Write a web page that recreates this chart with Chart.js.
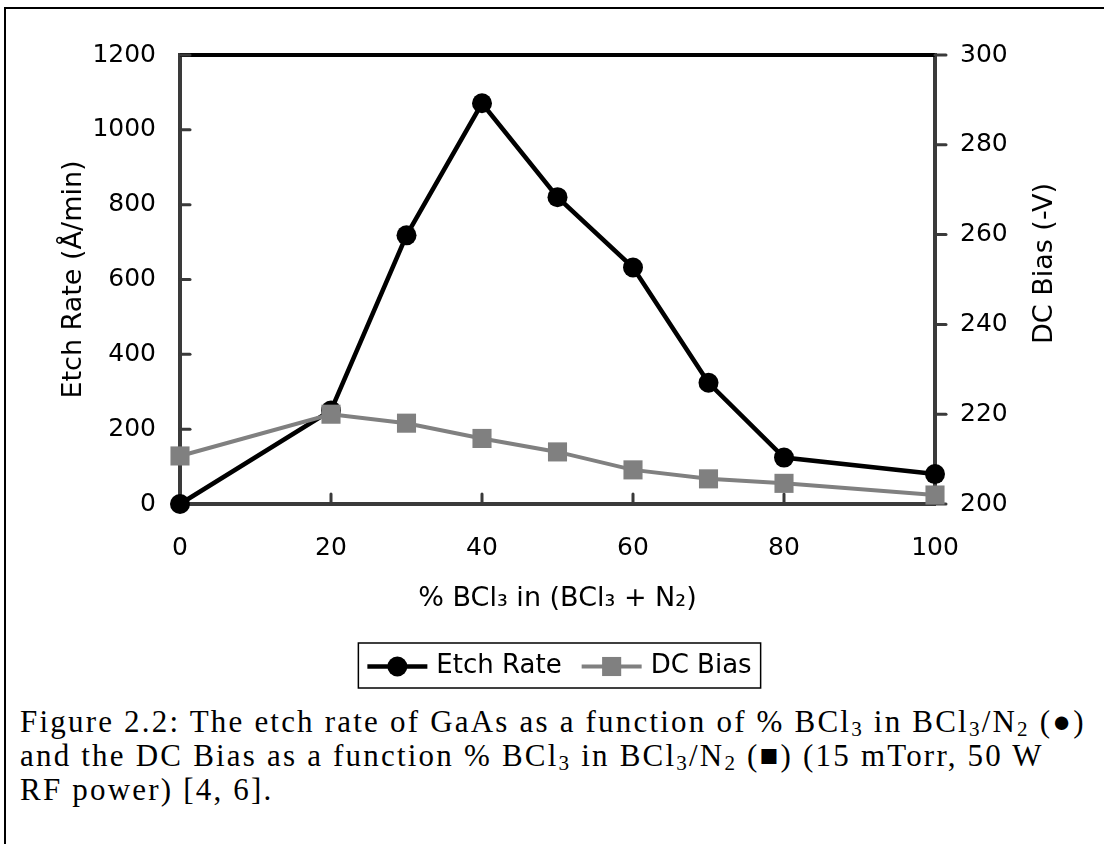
<!DOCTYPE html>
<html>
<head>
<meta charset="utf-8">
<title>Etch rate and DC bias vs % BCl3</title>
<script src="https://cdn.jsdelivr.net/npm/chart.js@4.4.1/dist/chart.umd.min.js"></script>
<style>
  html, body { margin: 0; padding: 0; background: #fff; overflow: hidden; }
  body { width: 1104px; height: 844px; position: relative; }
  .frame { position: absolute; left: 4px; top: 7px; width: 1200px; height: 900px;
           border-top: 2px solid #000; border-left: 2px solid #000; }
  #wrap { position: absolute; left: 0; top: 0; width: 1104px; height: 700px; }
  .caption { position: absolute; left: 20px; top: 705px; font-family: "Liberation Serif", serif;
             font-size: 31px; line-height: 34px; white-space: nowrap; color: #000; }
  .caption .ln { display: inline-block; }
  .caption sub { font-size: 0.68em; vertical-align: -0.2em; line-height: 0; }
</style>
</head>
<body>
<div class="frame"></div>
<div id="wrap"><canvas id="chart" width="1104" height="700"></canvas></div>
<div class="caption">
  <span class="ln">Figure 2.2: The etch rate of GaAs as a function of % BCl<sub>3</sub> in BCl<sub>3</sub>/N<sub>2</sub> (●)</span><br>
  <span class="ln">and the DC Bias as a function % BCl<sub>3</sub> in BCl<sub>3</sub>/N<sub>2</sub> (■) (15 mTorr, 50 W</span><br>
  <span class="ln">RF power) [4, 6].</span>
</div>
<script>
// values
const bcl3Pct = [0, 20, 30, 40, 50, 60, 70, 80, 100];
const etchRate = [0, 250, 718, 1071, 820, 632, 324, 124, 80];
const dcBias = [210.7, 220, 218, 214.6, 211.6, 207.6, 205.6, 204.6, 202];

const xTicks = [0, 20, 40, 60, 80, 100];
const etchTicks = [0, 200, 400, 600, 800, 1000, 1200];
const biasTicks = [200, 220, 240, 260, 280, 300];

const xTitle = '% BCl₃ in (BCl₃ + N₂)';
const etchTitle = 'Etch Rate (Å/min)';
const biasTitle = 'DC Bias (-V)';
const seriesNames = ['Etch Rate', 'DC Bias'];

const AXIS = '#3a3a3a';
const FONT = '"DejaVu Sans", sans-serif';

function points(ys) {
  return bcl3Pct.map((x, i) => ({ x: x, y: ys[i] }));
}

function fixTicks(list) {
  return (scale) => {
    scale.ticks = list.map((v) => ({ value: v }));
  };
}

const plainLabel = (v) => String(v);

// top border, inward/outward tick marks and the right-hand title
const axisDecor = {
  id: 'axisDecor',
  beforeDatasetsDraw(chart) {
    const { ctx, chartArea: a, scales } = chart;
    ctx.save();
    ctx.strokeStyle = '#000';
    ctx.lineWidth = 4;
    ctx.beginPath();
    ctx.moveTo(a.left, a.top);
    ctx.lineTo(a.right, a.top);
    ctx.stroke();

    ctx.strokeStyle = AXIS;
    ctx.lineWidth = 3;
    ctx.lineCap = 'round';
    const seg = (x1, y1, x2, y2) => {
      ctx.beginPath();
      ctx.moveTo(x1, y1);
      ctx.lineTo(x2, y2);
      ctx.stroke();
    };
    scales.x.ticks.forEach((t) => {
      if (t.value === 0 || t.value === 100) return;
      const px = scales.x.getPixelForValue(t.value);
      seg(px, a.bottom, px, a.bottom - 10);
    });
    scales.y.ticks.forEach((t) => {
      if (t.value === 0) return;
      const py = scales.y.getPixelForValue(t.value);
      seg(a.left, py, a.left + 10, py);
    });
    scales.y1.ticks.forEach((t) => {
      const py = scales.y1.getPixelForValue(t.value);
      seg(a.right, py, a.right + 11, py);
    });

    ctx.fillStyle = '#000';
    ctx.font = '27px ' + FONT;
    ctx.textAlign = 'center';
    ctx.textBaseline = 'middle';
    ctx.translate(a.right + 110, (a.top + a.bottom) / 2 - 16);
    ctx.rotate(-Math.PI / 2);
    ctx.fillText(biasTitle, 0, 0);
    ctx.restore();
  }
};

// boxed legend with line + marker samples
const boxLegend = {
  id: 'boxLegend',
  afterDraw(chart) {
    const { ctx, chartArea: a } = chart;
    const sets = chart.data.datasets;
    ctx.save();
    ctx.font = '26px ' + FONT;
    const pad = 9, sample = 60, gap = 9, between = 20;
    const widths = sets.map((d) => ctx.measureText(d.label).width);
    let total = pad * 2 + between * (sets.length - 1);
    widths.forEach((w) => { total += sample + gap + w; });
    const left = (a.left + a.right) / 2 - total / 2 + 2;
    const top = a.bottom + 139;
    const h = 45;
    const cy = top + h / 2 + 1;

    ctx.fillStyle = '#fff';
    ctx.fillRect(left, top, total, h);
    ctx.strokeStyle = '#000';
    ctx.lineWidth = 1.5;
    ctx.strokeRect(left, top, total, h);

    let x = left + pad;
    sets.forEach((d, i) => {
      ctx.strokeStyle = d.borderColor;
      ctx.lineWidth = d.borderWidth;
      ctx.beginPath();
      ctx.moveTo(x, cy);
      ctx.lineTo(x + sample, cy);
      ctx.stroke();
      ctx.fillStyle = d.pointBackgroundColor;
      const mx = x + sample / 2;
      if (d.pointStyle === 'rect') {
        const s = d.pointRadius * Math.SQRT1_2;
        ctx.fillRect(mx - s, cy - s, s * 2, s * 2);
      } else {
        ctx.beginPath();
        ctx.arc(mx, cy, d.pointRadius, 0, Math.PI * 2);
        ctx.fill();
      }
      x += sample + gap;
      ctx.fillStyle = '#000';
      ctx.textAlign = 'left';
      ctx.textBaseline = 'middle';
      ctx.fillText(d.label, x, cy);
      x += widths[i] + between;
    });
    ctx.restore();
  }
};

const chart = new Chart(document.getElementById('chart'), {
  type: 'line',
  data: {
    datasets: [
      {
        label: seriesNames[0],
        data: points(etchRate),
        yAxisID: 'y',
        borderColor: '#000',
        backgroundColor: '#000',
        pointBackgroundColor: '#000',
        borderWidth: 4.5,
        pointStyle: 'circle',
        pointRadius: 10,
        pointBorderWidth: 0,
        tension: 0,
        clip: false,
        order: 1,
      },
      {
        label: seriesNames[1],
        data: points(dcBias),
        yAxisID: 'y1',
        borderColor: '#808080',
        backgroundColor: '#808080',
        pointBackgroundColor: '#808080',
        borderWidth: 4,
        pointStyle: 'rect',
        pointRadius: 13.5,
        pointBorderWidth: 0,
        tension: 0,
        clip: false,
        order: 0,
      },
    ],
  },
  options: {
    responsive: false,
    animation: false,
    devicePixelRatio: 1,
    layout: { padding: { top: 55, left: 0, right: 0, bottom: 66 } },
    plugins: { legend: { display: false }, tooltip: { enabled: false } },
    scales: {
      x: {
        type: 'linear',
        min: 0,
        max: 100,
        afterBuildTicks: fixTicks(xTicks),
        afterFit: (s) => { s.height = 130; },
        grid: { display: false, drawTicks: false },
        border: { display: true, color: AXIS, width: 4 },
        ticks: { padding: 29, color: '#000', font: { family: FONT, size: 25 }, callback: plainLabel },
        title: {
          display: true,
          text: xTitle,
          color: '#000',
          font: { family: FONT, size: 27 },
          padding: { top: 0, bottom: 19 },
        },
      },
      y: {
        position: 'left',
        min: 0,
        max: 1200,
        afterBuildTicks: fixTicks(etchTicks),
        afterFit: (s) => { s.width = 180; },
        grid: { display: false, drawTicks: false },
        border: { display: true, color: AXIS, width: 4 },
        ticks: { padding: 24, color: '#000', font: { family: FONT, size: 25 }, callback: plainLabel },
        title: {
          display: true,
          text: etchTitle,
          color: '#000',
          font: { family: FONT, size: 27 },
          padding: { top: 58, bottom: 0 },
        },
      },
      y1: {
        position: 'right',
        min: 200,
        max: 300,
        afterBuildTicks: fixTicks(biasTicks),
        afterFit: (s) => { s.width = 169; },
        grid: { display: false, drawTicks: false },
        border: { display: true, color: AXIS, width: 4 },
        ticks: { padding: 25, color: '#000', font: { family: FONT, size: 25 }, callback: plainLabel },
        title: { display: false },
      },
    },
  },
  plugins: [axisDecor, boxLegend],
});

// stretch caption letter spacing so the first line spans like the original
const lines = document.querySelectorAll('.caption .ln');
const firstW = lines[0].getBoundingClientRect().width;
const spacing = (1066 - firstW) / lines[0].textContent.length;
lines.forEach((el) => { el.style.letterSpacing = spacing.toFixed(2) + 'px'; });
</script>
</body>
</html>
